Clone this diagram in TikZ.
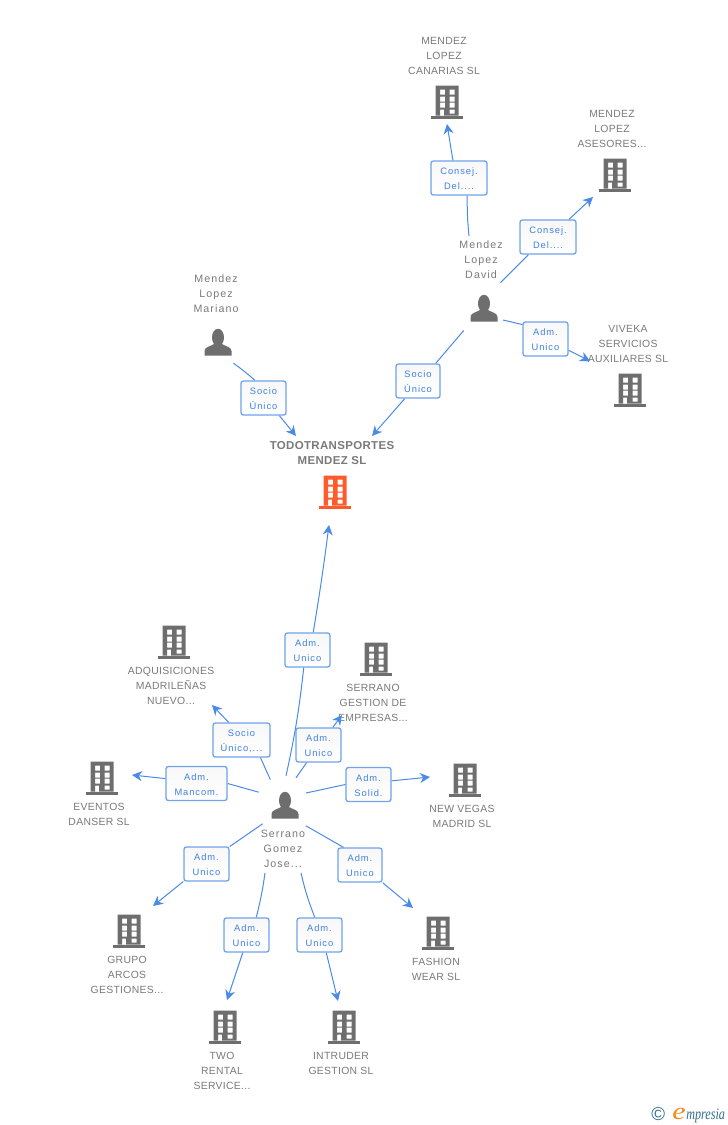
\documentclass[tikz,border=0pt]{standalone}
\usepackage{fontspec}
\setmainfont{Liberation Sans}
\newfontfamily\lblfont[LetterSpace=3]{Liberation Sans}
\newfontfamily\prsfont[LetterSpace=10]{Liberation Sans}
\newfontfamily\mainfont[LetterSpace=3,BoldFont={Liberation Sans Bold}]{Liberation Sans}
\newfontfamily\boxfont[LetterSpace=10]{Liberation Sans}
\newfontfamily\logofont{Liberation Serif}
\usetikzlibrary{arrows.meta}
\definecolor{edgeblue}{HTML}{4A8BE8}
\definecolor{boxblue}{HTML}{6FA3EC}
\definecolor{boxtext}{HTML}{3F80E0}
\definecolor{labgrey}{HTML}{7A7A7A}
\definecolor{icongrey}{HTML}{6E6E6E}
\definecolor{iconorange}{HTML}{FF5A2B}
\definecolor{logoteal}{HTML}{2F6F8F}
\definecolor{logoorange}{HTML}{F08A1D}
\tikzset{
  x=0.75pt,y=-0.75pt,
  edge/.style={draw=edgeblue,line width=0.75pt},
  arr/.style={edge,-{Stealth[length=7.5pt,width=7.5pt]}},
  relbox/.style={draw=boxblue,line width=1pt,rounded corners=1.8pt,top color=black!3,bottom color=white,
    text=boxtext,font=\boxfont\fontsize{7}{11.25}\selectfont,align=center,inner sep=0pt,text height=18pt},
  lab/.style={text=labgrey,font=\lblfont\fontsize{7.8}{11.25}\selectfont,align=center,inner sep=0pt},
  prslab/.style={text=labgrey,font=\prsfont\fontsize{8}{11.25}\selectfont,align=center,inner sep=0pt},
  mainlab/.style={text=labgrey,font=\mainfont\bfseries\fontsize{8.6}{11.25}\selectfont,align=center,inner sep=0pt},
  anchorbox/.style={inner sep=0pt,minimum width=24pt,minimum height=25pt},
  ring/.style={circle,inner sep=0pt,minimum size=#1},
}
\newcommand{\bld}[4]{%
  \node[anchorbox] (#1) at (#2,#3) {};
  \begin{scope}[shift={(#2,#3)}]
    \fill[#4,even odd rule]
      (-11.5,-16.5) rectangle (11.5,13.5)
      (-7,-12.5) rectangle (-2,-7.5) (2.5,-12.5) rectangle (7.5,-7.5)
      (-7,-5.5) rectangle (-2,-0.5) (2.5,-5.5) rectangle (7.5,-0.5)
      (-7,0.5) rectangle (-2,5.5) (2.5,0.5) rectangle (7.5,5.5)
      (-7,7.5) rectangle (-3,13.5) (2.5,7.5) rectangle (7.5,11.5);
    \fill[#4] (-16,13.5) rectangle (16,16.5);
  \end{scope}}
\newcommand{\prs}[4]{%
  \node[ring=#4] (#1) at (#2,#3) {};
  \begin{scope}[shift={(#2,#3)}]
    \fill[icongrey] (0,-4.5) ellipse (6 and 8.7);
    \fill[icongrey] (-13.5,13.5) -- (-13.5,9) .. controls (-13.5,5) and (-8,4.5) .. (-4,2)
      -- (4,2) .. controls (8,4.5) and (13.5,5) .. (13.5,9) -- (13.5,13.5) -- cycle;
  \end{scope}}
\newcommand{\rbox}[5]{\node[relbox,minimum width=#4*0.75pt,minimum height=25.5pt] (#1) at (#2,#3) {#5};}
\begin{document}
\begin{tikzpicture}
\useasboundingbox (0,0) rectangle (728,1125);
\fill[white] (0,0) rectangle (728,1125);

% icons
\bld{cCan}{447}{102}{icongrey}
\bld{cAse}{615}{175}{icongrey}
\bld{cViv}{630}{390}{icongrey}
\bld{cTod}{335}{492}{iconorange}
\bld{cAdq}{174}{642}{icongrey}
\bld{cSer}{376}{659}{icongrey}
\bld{cEve}{102}{778}{icongrey}
\bld{cNew}{465}{780}{icongrey}
\bld{cGru}{129}{931}{icongrey}
\bld{cFas}{438}{933}{icongrey}
\bld{cTwo}{225}{1027}{icongrey}
\bld{cInt}{344}{1027}{icongrey}
\prs{pMar}{218}{342}{39pt}
\prs{pDav}{484}{308}{45pt}
\prs{pSer}{285}{805}{43.5pt}

% labels
\node[lab] (lCan) at (444,56) {MENDEZ\\LOPEZ\\CANARIAS SL};
\node[lab] (lAse) at (612,129) {MENDEZ\\LOPEZ\\ASESORES...};
\node[lab] (lViv) at (628,344) {VIVEKA\\SERVICIOS\\AUXILIARES SL};
\node[mainlab] (lTod) at (332,453) {TODOTRANSPORTES\\MENDEZ SL};
\node[prslab] (lMar) at (216,294) {Mendez\\Lopez\\Mariano};
\node[prslab] (lDav) at (481,260) {Mendez\\Lopez\\David};
\node[lab] (lAdq) at (171,686) {ADQUISICIONES\\MADRILEÑAS\\NUEVO...};
\node[lab] (lSer) at (373,703) {SERRANO\\GESTION DE\\EMPRESAS...};
\node[lab] (lEve) at (99,814.5) {EVENTOS\\DANSER  SL};
\node[lab] (lNew) at (462,816.5) {NEW VEGAS\\MADRID  SL};
\node[prslab] (lPer) at (283,849) {Serrano\\Gomez\\Jose...};
\node[lab] (lGru) at (127,975) {GRUPO\\ARCOS\\GESTIONES...};
\node[lab] (lFas) at (436,969.5) {FASHION\\WEAR  SL};
\node[lab] (lTwo) at (222,1071) {TWO\\RENTAL\\SERVICE...};
\node[lab] (lInt) at (341,1063.5) {INTRUDER\\GESTION SL};

% free connector ends
\coordinate (sCan) at (469,236);
\coordinate (sViv) at (503,320);
\coordinate (sNew) at (306,793);
\coordinate (sTwo) at (265,873);
\coordinate (sInt) at (301,873);
\coordinate (eCan) at (447,124);
\coordinate (eAse) at (593,197);
\coordinate (eViv) at (590,361);
\coordinate (eTodL) at (296,436);
\coordinate (eTodR) at (372,436);
\coordinate (eTodB) at (329,525);
\coordinate (eAdq) at (212,705);
\coordinate (eSer) at (342,715);
\coordinate (eEve) at (132,775);
\coordinate (eNew) at (430,777);
\coordinate (eGru) at (153,906);
\coordinate (eFas) at (413,908);
\coordinate (eTwo) at (227,1000);
\coordinate (eInt) at (338,1001);

% relation boxes
\rbox{bCan}{459}{178}{56}{Consej.\\Del....}
\rbox{bAse}{548}{237}{56}{Consej.\\Del....}
\rbox{bViv}{545.5}{339}{45}{Adm.\\Unico}
\rbox{bDav}{418}{381}{44}{Socio\\Único}
\rbox{bMar}{263.5}{398}{45}{Socio\\Único}
\rbox{bTod}{307.5}{650}{45}{Adm.\\Unico}
\rbox{bSer}{318.5}{745}{45}{Adm.\\Unico}
\rbox{bAdq}{241.5}{740}{57}{Socio\\Único,...}
\rbox{bEve}{196.5}{783.5}{61}{Adm.\\Mancom.}
\rbox{bNew}{368.5}{784.5}{45}{Adm.\\Solid.}
\rbox{bGru}{206.5}{864}{45}{Adm.\\Unico}
\rbox{bFas}{360}{865}{44}{Adm.\\Unico}
\rbox{bTwo}{246.5}{935}{45}{Adm.\\Unico}
\rbox{bInt}{319.5}{935}{45}{Adm.\\Unico}

% connectors
\draw[edge] (sCan) to[bend left=3] (bCan.-65);
\draw[arr] (bCan.109) -- (eCan);
\draw[edge] (pDav.57) -- (bAse.-138);
\draw[arr] (bAse.40) -- (eAse);
\draw[edge] (sViv) -- (bViv.148);
\draw[arr] (bViv.-26) -- (eViv);
\draw[edge] (pDav.-132) -- (bDav.45);
\draw[arr] (bDav.-127) -- (eTodR);
\draw[edge] (pMar.-54) to[bend left=3] (bMar.116);
\draw[arr] (bMar.-48) -- (eTodL);
\draw[edge] (pSer.88) to[bend right=3] (bTod.-102);
\draw[arr] (bTod.72) to[bend right=1] (eTodB);
\draw[edge] (pSer.68) -- (bSer.-124);
\draw[arr] (bSer.51) -- (eSer);
\draw[edge] (pSer.120) -- (bAdq.-43);
\draw[arr] (bAdq.126) -- (eAdq);
\draw[edge] (pSer.154) -- (bEve.0);
\draw[arr] (bEve.171) -- (eEve);
\draw[edge] (sNew) -- (bNew.180);
\draw[arr] (bNew.9) -- (eNew);
\draw[edge] (pSer.-140) -- (bGru.37);
\draw[arr] (bGru.-143) -- (eGru);
\draw[edge] (pSer.-45) -- (bFas.133);
\draw[arr] (bFas.-38) -- (eFas);
\draw[edge] (sTwo) to[bend left=3] (bTwo.61);
\draw[arr] (bTwo.-102) -- (eTwo);
\draw[edge] (sInt) to[bend right=4] (bInt.105);
\draw[arr] (bInt.-69) -- (eInt);

% logo
\node[anchor=west,inner sep=0pt,text=logoteal,font=\fontsize{14}{14}\selectfont] (logoC) at (651,1114) {©};
\node[anchor=base west,inner sep=0pt,text=logoorange,font=\logofont\itshape\fontsize{18}{18}\selectfont] (logoE) at (672,1119.5) {\scalebox{1.25}[1]{e}};
\node[anchor=base west,inner sep=0pt,text=logoteal,font=\logofont\itshape\fontsize{12}{12}\selectfont] (logoT) at (686,1119) {\scalebox{0.76}[1]{mpresia}};
\end{tikzpicture}
\end{document}
